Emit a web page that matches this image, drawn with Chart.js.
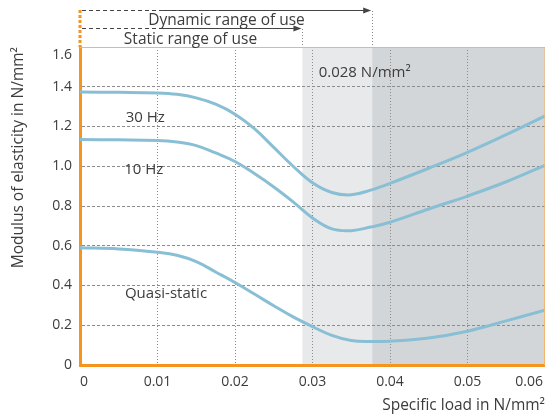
<!DOCTYPE html>
<html><head><meta charset="utf-8">
<script src="https://cdn.jsdelivr.net/npm/chart.js@4"></script>
<style>html,body{margin:0;padding:0;background:#fff}canvas{display:block}</style>
</head><body>
<canvas id="c" width="545" height="419"></canvas>
<script>
// ---- data ----
const loads = [0, 0.005, 0.01, 0.0125, 0.015, 0.0175, 0.02, 0.0225, 0.025, 0.0275, 0.03, 0.0325, 0.035, 0.0375, 0.04, 0.045, 0.05, 0.055, 0.06];
const hz30 = [1.373, 1.372, 1.369, 1.362, 1.344, 1.312, 1.262, 1.189, 1.095, 1.000, 0.917, 0.868, 0.856, 0.880, 0.914, 0.990, 1.070, 1.159, 1.253];
const hz10 = [1.134, 1.133, 1.130, 1.122, 1.104, 1.067, 1.024, 0.963, 0.896, 0.821, 0.740, 0.685, 0.676, 0.694, 0.718, 0.785, 0.850, 0.922, 1.005];
const quasiStatic = [0.590, 0.584, 0.567, 0.552, 0.520, 0.468, 0.415, 0.357, 0.298, 0.242, 0.193, 0.149, 0.123, 0.118, 0.120, 0.136, 0.170, 0.222, 0.276];
const seriesNames = ['30 Hz', '10 Hz', 'Quasi-static'];
const seriesLabelAt = [[0.0059, 1.225], [0.0057, 0.963], [0.0058, 0.338]];
const xTicks = [0, 0.01, 0.02, 0.03, 0.04, 0.05, 0.06];
const xTickLabels = ['0', '0.01', '0.02', '0.03', '0.04', '0.05', '0.06'];
const yTicks = [0, 0.2, 0.4, 0.6, 0.8, 1.0, 1.2, 1.4, 1.6];
const yTickLabels = ['0', '0.2', '0.4', '0.6', '0.8', '1.0', '1.2', '1.4', '1.6'];
const staticRangeEnd = 0.0287;
const dynamicRangeEnd = 0.0377;
const arrowSolidFrom = 0.0106;
const noteText = '0.028 N/mm²';
const noteAt = [0.0308, 1.451];

const ORANGE = '#f7941d';
const LINE = '#89bfd5';
const TXT = '#3c3c3c';
const FONT = "'Open Sans', sans-serif";
Chart.defaults.font.family = FONT;
Chart.defaults.font.size = 14;
Chart.defaults.color = TXT;

const mk = (arr) => loads.map((x, i) => ({x, y: arr[i]}));

const shadePlugin = {
  id: 'shade',
  beforeDraw(chart) {
    const {ctx, chartArea: a, scales: {x}} = chart;
    const xs = x.getPixelForValue(staticRangeEnd), xd = x.getPixelForValue(dynamicRangeEnd);
    ctx.save();
    ctx.fillStyle = '#e8e9eb';
    ctx.fillRect(xs, a.top, xd - xs, a.bottom - a.top);
    ctx.fillStyle = '#d3d6d9';
    ctx.fillRect(xd, a.top, a.right - xd, a.bottom - a.top);
    ctx.restore();
  }
};

let chartTop = 47;
function arrowLine(ctx, x0, xSolid, xEnd, y) {
  ctx.save();
  ctx.strokeStyle = '#444'; ctx.fillStyle = '#444'; ctx.lineWidth = 1;
  ctx.setLineDash([4, 3]);
  ctx.beginPath(); ctx.moveTo(x0 + 2, y + 0.5); ctx.lineTo(xSolid, y + 0.5); ctx.stroke();
  ctx.setLineDash([]);
  ctx.beginPath(); ctx.moveTo(xSolid, y + 0.5); ctx.lineTo(xEnd - 6, y + 0.5); ctx.stroke();
  ctx.beginPath(); ctx.moveTo(xEnd - 1, y + 0.5); ctx.lineTo(xEnd - 9, y - 2.5); ctx.lineTo(xEnd - 9, y + 3.5); ctx.closePath(); ctx.fill();
  ctx.strokeStyle = '#8a8a8a'; ctx.setLineDash([1, 2]);
  ctx.beginPath(); ctx.moveTo(Math.round(xEnd) + 0.5, y + 1); ctx.lineTo(Math.round(xEnd) + 0.5, chartTop); ctx.stroke();
  ctx.restore();
}

const annotPlugin = {
  id: 'annot',
  afterDraw(chart) {
    const {ctx, chartArea: a, scales: {x, y}} = chart;
    chartTop = a.top;
    ctx.save();
    ctx.strokeStyle = '#f6b46a'; ctx.lineWidth = 1;
    ctx.beginPath(); ctx.moveTo(a.left, a.top + 0.5); ctx.lineTo(a.right, a.top + 0.5); ctx.lineTo(a.right - 0.5, a.bottom); ctx.stroke();
    ctx.strokeStyle = ORANGE; ctx.lineWidth = 3; ctx.setLineDash([3, 2]);
    const x0 = x.getPixelForValue(0);
    ctx.beginPath(); ctx.moveTo(x0, a.top - 37); ctx.lineTo(x0, a.top); ctx.stroke();
    ctx.setLineDash([]);
    ctx.restore();
    const xSolid = x.getPixelForValue(arrowSolidFrom);
    arrowLine(ctx, x0, xSolid, x.getPixelForValue(dynamicRangeEnd), a.top - 37);
    arrowLine(ctx, x0, xSolid, x.getPixelForValue(staticRangeEnd), a.top - 19);
    ctx.save();
    ctx.fillStyle = TXT;
    ctx.font = '15.5px ' + FONT;
    ctx.textAlign = 'center'; ctx.textBaseline = 'alphabetic';
    ctx.fillText('Dynamic range of use', 226.5, a.top - 22);
    ctx.fillText('Static range of use', 190.5, a.top - 3);
    ctx.textAlign = 'left';
    ctx.font = '15px ' + FONT;
    seriesNames.forEach((n, i) => {
      ctx.fillText(n, x.getPixelForValue(seriesLabelAt[i][0]), y.getPixelForValue(seriesLabelAt[i][1]));
    });
    ctx.fillText(noteText, x.getPixelForValue(noteAt[0]), y.getPixelForValue(noteAt[1]));
    ctx.font = '14px ' + FONT;
    ctx.textAlign = 'center';
    xTicks.forEach((v, i) => {
      const w = ctx.measureText(xTickLabels[i]).width;
      let px = x.getPixelForValue(v);
      px = Math.min(px, chart.width - w / 2 - 2);
      px = Math.max(px, a.left + w / 2);
      ctx.fillText(xTickLabels[i], px, a.bottom + 21);
    });
    ctx.textAlign = 'right'; ctx.textBaseline = 'middle';
    ctx.fillText(yTickLabels[yTickLabels.length - 1], a.left - 8, y.getPixelForValue(yTicks[yTicks.length - 1]) + 8);
    ctx.restore();
  }
};

const ds = (label, arr) => ({
  label, data: mk(arr), borderColor: LINE, borderWidth: 3, pointRadius: 0,
  tension: 0.4, fill: false
});

new Chart(document.getElementById('c'), {
  type: 'line',
  data: { datasets: [ds(seriesNames[0], hz30), ds(seriesNames[1], hz10), ds(seriesNames[2], quasiStatic)] },
  options: {
    responsive: false, animation: false, events: [],
    layout: { padding: { top: 47, right: 0, left: 0, bottom: 0 } },
    plugins: { legend: { display: false }, tooltip: { enabled: false } },
    scales: {
      x: {
        type: 'linear', min: 0, max: 0.06,
        afterBuildTicks: (s) => { s.ticks = xTicks.map(v => ({value: v})); },
        afterFit: (s) => { s.height = 54; },
        ticks: { display: false },
        grid: { drawTicks: false, lineWidth: 1,
          color: (c) => (c.tick && (c.tick.value === 0 || c.tick.value >= 0.06)) ? 'rgba(0,0,0,0)' : '#8c8c8c' },
        border: { color: ORANGE, width: 3, dash: [1, 2] },
        title: { display: true, text: 'Specific load in N/mm²', align: 'end', padding: { top: 0, bottom: 4 }, font: { size: 15.5 } }
      },
      y: {
        min: 0, max: 1.6,
        afterBuildTicks: (s) => { s.ticks = yTicks.map(v => ({value: v})); },
        afterFit: (s) => { s.width = 80; },
        ticks: { padding: 8, callback: (v, i) => i === yTickLabels.length - 1 ? '' : yTickLabels[i] },
        grid: { drawTicks: false, lineWidth: 1,
          color: (c) => (c.tick && (c.tick.value === 0 || c.tick.value >= 1.6)) ? 'rgba(0,0,0,0)' : '#8c8c8c' },
        border: { color: ORANGE, width: 3, dash: [3, 2] },
        title: { display: true, text: 'Modulus of elasticity in N/mm²', align: 'end', padding: { top: 9, bottom: 0 }, font: { size: 15.5 } }
      }
    }
  },
  plugins: [shadePlugin, annotPlugin]
});
</script>
</body></html>
